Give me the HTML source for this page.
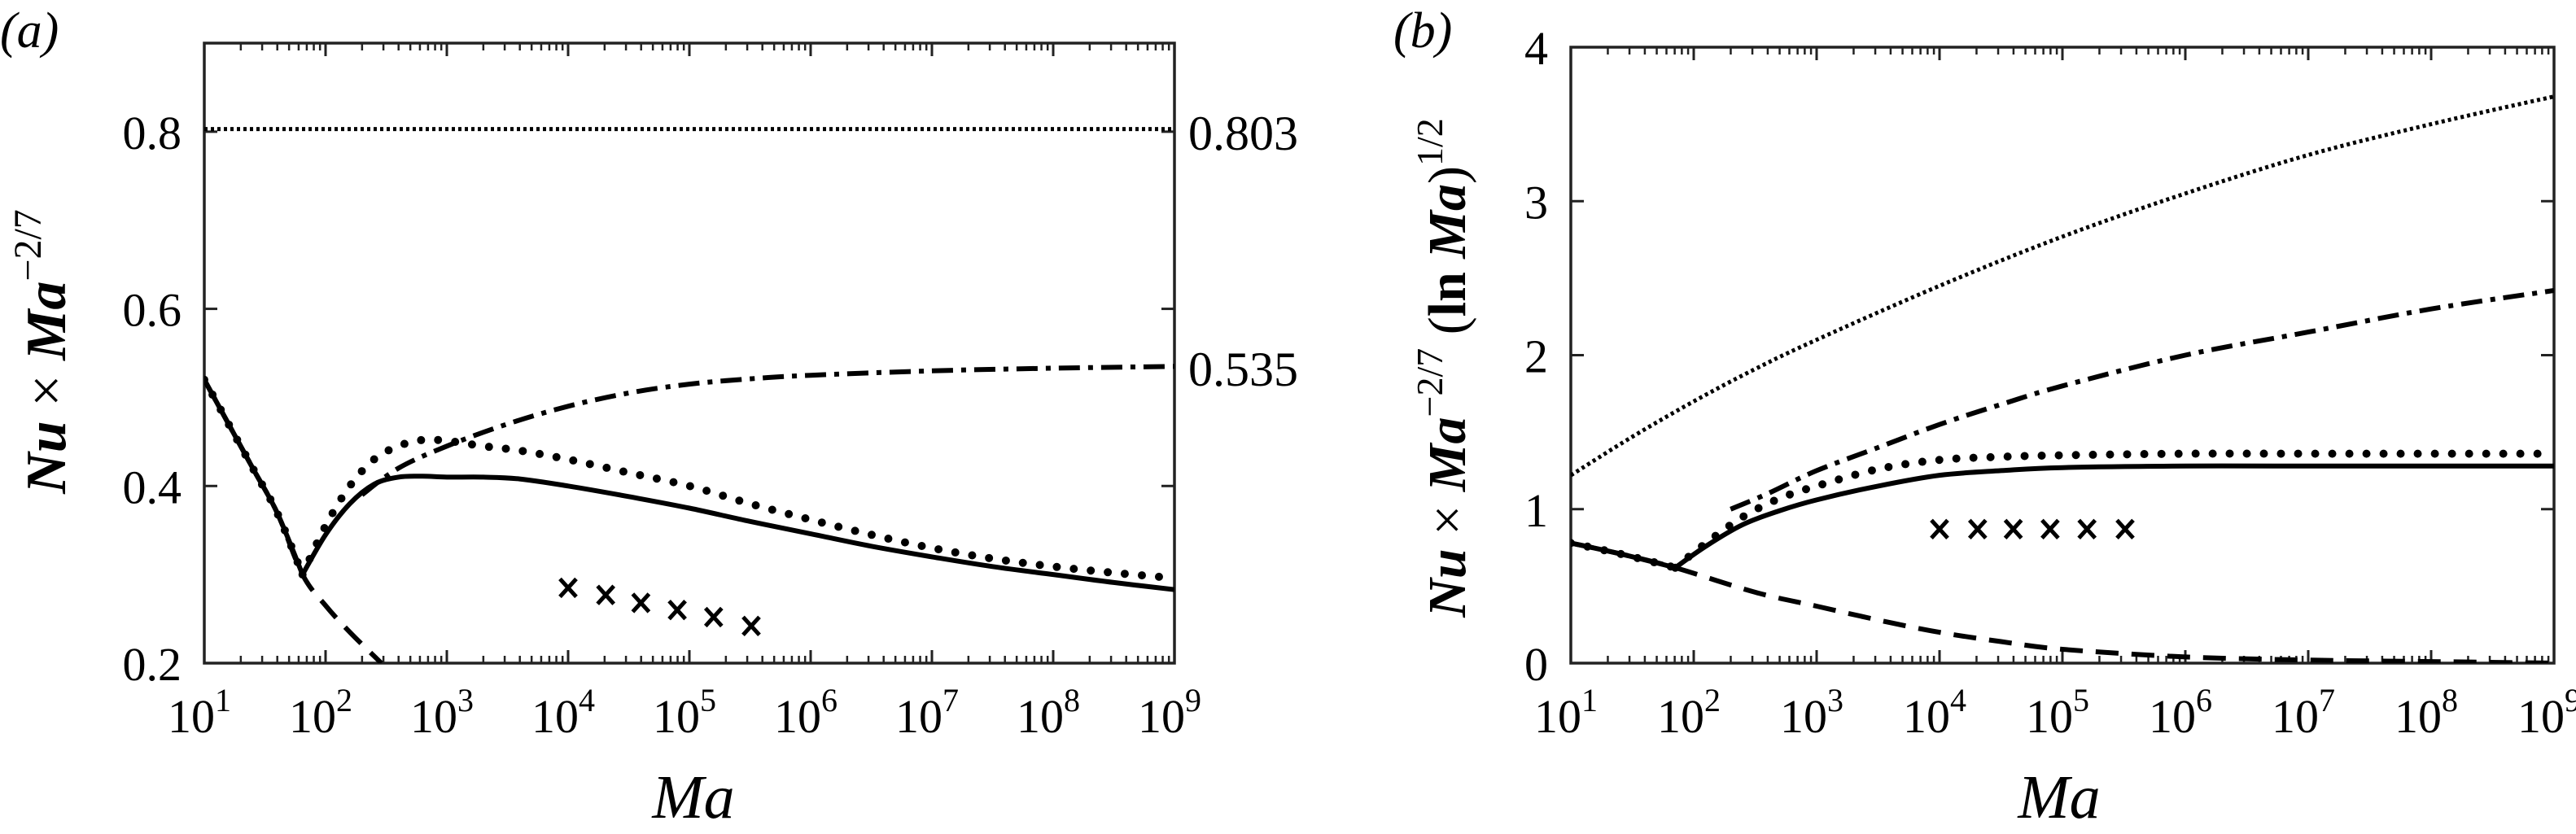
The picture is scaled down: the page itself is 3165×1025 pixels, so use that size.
<!DOCTYPE html>
<html><head><meta charset="utf-8"><style>
body{margin:0;background:#fff}
svg{display:block;font-family:"Liberation Serif","Times New Roman",serif}
</style></head><body>
<svg id="fig" width="3165" height="1025" viewBox="0 0 3165 1025"></svg>
<script>
// Panel (a) data: x = log10(Ma)
const aSolidX=[1,1.2,1.4,1.6,1.81];
const aSolidY=[0.52,0.47,0.42,0.37,0.30];
const aSolid2X=[1.81,2.0,2.2,2.4,2.6,2.8,3.0,3.3,3.6,4,4.5,5,5.5,6,6.5,7,7.5,8,8.5,9];
const aSolid2Y=[0.30,0.345,0.38,0.402,0.41,0.411,0.41,0.41,0.408,0.40,0.388,0.375,0.36,0.346,0.332,0.32,0.309,0.30,0.291,0.283];
const aDotsX=[1,1.2,1.4,1.6,1.81];
const aDotsY=[0.52,0.47,0.42,0.37,0.30];
const aDots2X=[1.81,2.0,2.2,2.4,2.6,2.8,3.0,3.3,3.6,4,4.5,5,5.5,6,6.5,7,7.5,8,8.5,9];
const aDots2Y=[0.30,0.355,0.40,0.43,0.445,0.452,0.451,0.445,0.44,0.43,0.415,0.40,0.38,0.362,0.345,0.33,0.318,0.309,0.302,0.296];
const aDashX=[1,1.2,1.4,1.6,1.81,2.0,2.2,2.46];
const aDashY=[0.52,0.47,0.42,0.37,0.30,0.265,0.235,0.20];
const aDashDotX=[2.3,2.6,3,3.5,4,4.5,5,5.5,6,7,8,9];
const aDashDotY=[0.39,0.42,0.445,0.47,0.49,0.505,0.515,0.521,0.525,0.53,0.533,0.535];
const aFineX=[1,9];
const aFineY=[0.803,0.803];
const crossX=[4,4.31,4.6,4.9,5.2,5.51];
const aCrossY=[0.285,0.277,0.268,0.26,0.252,0.242];
// Panel (b)
const bFineX=[1,1.5,2,2.5,3,4,5,6,7,8,9];
const bFineY=[1.22,1.47,1.7,1.91,2.1,2.45,2.77,3.05,3.3,3.5,3.68];
const bDashDotX=[2.3,2.6,3,3.5,4,4.5,5,6,7,8,9];
const bDashDotY=[1.0,1.1,1.25,1.4,1.55,1.68,1.8,2.0,2.15,2.3,2.42];
const bSolidX=[1,1.4,1.85];
const bSolidY=[0.78,0.71,0.62];
const bSolid2X=[1.85,2.1,2.4,2.7,3,3.5,4,4.5,5,6,7,9];
const bSolid2Y=[0.62,0.76,0.9,0.99,1.06,1.15,1.22,1.25,1.27,1.28,1.28,1.28];
const bDotsX=[1,1.4,1.85];
const bDotsY=[0.78,0.71,0.62];
const bDots2X=[1.85,2.1,2.4,2.7,3,3.5,4,4.5,5,6,7,9];
const bDots2Y=[0.62,0.78,0.95,1.07,1.15,1.26,1.32,1.34,1.35,1.36,1.36,1.36];
const bDashX=[1,1.4,1.85,2.5,3,3.5,4,4.5,5,6,7,8,9];
const bDashY=[0.78,0.71,0.62,0.46,0.37,0.28,0.2,0.14,0.09,0.04,0.02,0.01,0.0];
const bCrossY=[0.87,0.87,0.87,0.87,0.87,0.87];
const xTicks=[1,2,3,4,5,6,7,8,9];
const aYTicks=[0.2,0.4,0.6,0.8];
const bYTicks=[0,1,2,3,4];

const NS="http://www.w3.org/2000/svg";
const svg=document.getElementById('fig');
function mk(t,at,p){const e=document.createElementNS(NS,t);for(const k in at)e.setAttribute(k,at[k]);(p||svg).appendChild(e);return e;}
function smooth(pts){
  if(pts.length<3)return pts.map((p,i)=>(i?'L':'M')+p[0].toFixed(1)+','+p[1].toFixed(1)).join('');
  let d='M'+pts[0][0].toFixed(1)+','+pts[0][1].toFixed(1);
  for(let i=0;i<pts.length-1;i++){
    const p0=pts[Math.max(0,i-1)],p1=pts[i],p2=pts[i+1],p3=pts[Math.min(pts.length-1,i+2)];
    const c1=[p1[0]+(p2[0]-p0[0])/6,p1[1]+(p2[1]-p0[1])/6];
    const c2=[p2[0]-(p3[0]-p1[0])/6,p2[1]-(p3[1]-p1[1])/6];
    d+='C'+c1.map(v=>v.toFixed(1)).join(',')+' '+c2.map(v=>v.toFixed(1)).join(',')+' '+p2[0].toFixed(1)+','+p2[1].toFixed(1);
  }
  return d;
}

function panel(P){
  const g=mk('g',{});
  
  
  const sx=v=>P.L+(v-1)/8*(P.R-P.L);
  const sy=v=>P.B-(v-P.y0)/(P.y1-P.y0)*(P.B-P.T);
  const clipId=P.name+'-clip';
  const cp=mk('clipPath',{id:clipId},g);
  mk('rect',{x:P.L,y:P.T,width:P.R-P.L,height:P.B-P.T},cp);
  for(let d=1;d<=9;d++){
    for(const b of [P.B,P.T]){
      const dir=b===P.B?-1:1;
      const t=mk('line',{x1:sx(d),x2:sx(d),y1:b,y2:b+dir*16,stroke:'#222','stroke-width':3},g);
      
      
      if(d<9)for(let m=2;m<=9;m++){
        const xv=sx(d+Math.log10(m));
        const tm=mk('line',{x1:xv,x2:xv,y1:b,y2:b+dir*9,stroke:'#222','stroke-width':2.5},g);
        
        
      }
    }
  }
  xTicks.forEach(d=>{
    const t=mk('text',{x:sx(d)-6,y:900,'font-size':58,'text-anchor':'middle'},g);
    
    
    t.textContent='10';
    const s=mk('tspan',{dy:-26,'font-size':40},t);s.textContent=String(d);
  });
  P.yTicks.forEach(v=>{
    const y=sy(v);
    mk('line',{x1:P.L,x2:P.L+16,y1:y,y2:y,stroke:'#222','stroke-width':3},g);
    mk('line',{x1:P.R,x2:P.R-16,y1:y,y2:y,stroke:'#222','stroke-width':3},g);
    const t=mk('text',{x:P.L-28,y:y+21,'font-size':58,'text-anchor':'end'},g);
    
    
    t.textContent=P.fmt(v);
  });
  const fr=mk('rect',{x:P.L,y:P.T,width:P.R-P.L,height:P.B-P.T,fill:'none',stroke:'#222','stroke-width':3.5},g);
  
  
  const cg=mk('g',{'clip-path':'url(#'+clipId+')'},g);
  function line(xs,ys,style,name){
    const d=smooth(xs.map((x,i)=>[sx(x),sy(ys[i])]));
    const p=mk('path',Object.assign({d:d,fill:'none',stroke:'#000','stroke-linejoin':'round'},style),cg);
    
    
  }
  line(P.fineX,P.fineY,{'stroke-width':5,'stroke-dasharray':'4 4'},'fine-dotted-curve');
  line(P.ddX,P.ddY,{'stroke-width':6,'stroke-dasharray':'26 10 6 10'},'dash-dot-curve');
  line(P.dashX,P.dashY,{'stroke-width':6,'stroke-dasharray':'28 16'},'dashed-curve');
  line(P.solX,P.solY,{'stroke-width':6},'solid-curve');
  line(P.sol2X,P.sol2Y,{'stroke-width':6},'solid-curve-upper');
  line(P.dotX,P.dotY,{'stroke-width':10,'stroke-linecap':'round','stroke-dasharray':'0 21'},'dotted-curve');
  line(P.dot2X,P.dot2Y,{'stroke-width':10,'stroke-linecap':'round','stroke-dasharray':'0 21'},'dotted-curve-upper');
  crossX.forEach((x,i)=>{
    const cx=sx(x),cy=sy(P.crossY[i]);
    const c=mk('path',{d:`M${cx-10},${cy-11}L${cx+10},${cy+11}M${cx-10},${cy+11}L${cx+10},${cy-11}`,stroke:'#000','stroke-width':5},g);
    
    
  });
}
panel({name:'panel-a',L:251,R:1443,T:53,B:815,y0:0.2,y1:0.9,yTicks:aYTicks,fmt:v=>v.toFixed(1),
 fineX:aFineX,fineY:aFineY,ddX:aDashDotX,ddY:aDashDotY,dashX:aDashX,dashY:aDashY,solX:aSolidX,solY:aSolidY,sol2X:aSolid2X,sol2Y:aSolid2Y,dotX:aDotsX,dotY:aDotsY,dot2X:aDots2X,dot2Y:aDots2Y,crossY:aCrossY});
panel({name:'panel-b',L:1930,R:3138,T:58,B:815,y0:0,y1:4,yTicks:bYTicks,fmt:v=>String(v),
 fineX:bFineX,fineY:bFineY,ddX:bDashDotX,ddY:bDashDotY,dashX:bDashX,dashY:bDashY,solX:bSolidX,solY:bSolidY,sol2X:bSolid2X,sol2Y:bSolid2Y,dotX:bDotsX,dotY:bDotsY,dot2X:bDots2X,dot2Y:bDots2Y,crossY:bCrossY});
</script>
<svg width="3165" height="1025" style="position:absolute;left:0;top:0">
<text x="0" y="58" font-size="62" font-style="italic" font-family="Liberation Serif">(a)</text>
<text x="1712" y="58" font-size="62" font-style="italic" font-family="Liberation Serif">(b)</text>
<text x="1460" y="184" font-size="60" font-family="Liberation Serif">0.803</text>
<text x="1460" y="474" font-size="60" font-family="Liberation Serif">0.535</text>
<text x="852" y="1005" font-size="76" font-style="italic" text-anchor="middle" font-family="Liberation Serif">Ma</text>
<text x="2530" y="1005" font-size="76" font-style="italic" text-anchor="middle" font-family="Liberation Serif">Ma</text>
<text transform="translate(80,432) rotate(-90)" font-size="70" text-anchor="middle" font-family="Liberation Serif"><tspan font-style="italic" font-weight="bold">Nu</tspan> × <tspan font-style="italic" font-weight="bold">Ma</tspan><tspan dy="-30" font-size="48">−2/7</tspan></text>
<text transform="translate(1800,452) rotate(-90)" font-size="66" text-anchor="middle" font-family="Liberation Serif"><tspan font-style="italic" font-weight="bold">Nu</tspan> × <tspan font-style="italic" font-weight="bold">Ma</tspan><tspan dy="-28" font-size="46">−2/7</tspan><tspan dy="28"> (</tspan><tspan font-weight="bold">ln</tspan> <tspan font-style="italic" font-weight="bold">Ma</tspan>)<tspan dy="-28" font-size="46">1/2</tspan></text>
</svg>
</body></html>
